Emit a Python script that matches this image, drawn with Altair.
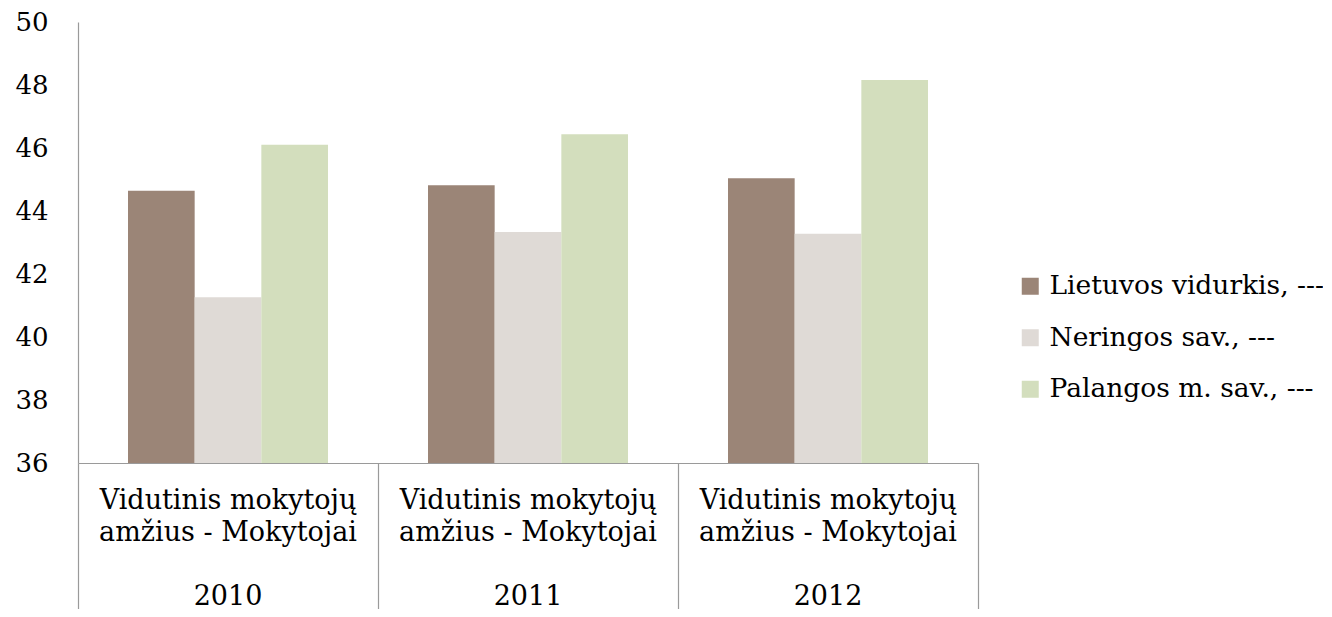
import altair as alt
import pandas as pd

years = ["2010", "2011", "2012"]
series = ["Lietuvos vidurkis, ---", "Neringos sav., ---", "Palangos m. sav., ---"]
lietuvos = [44.64, 44.82, 45.04]
neringos = [41.26, 43.33, 43.28]
palangos = [46.10, 46.44, 48.16]
colors = ["#9B8577", "#DFDAD6", "#D3DEBD"]
y_ticks = [36, 38, 40, 42, 44, 46, 48, 50]

rows = []
for i, yr in enumerate(years):
    for s, vals in zip(series, [lietuvos, neringos, palangos]):
        rows.append({"year": yr, "series": s, "value": vals[i]})
df = pd.DataFrame(rows)

FONT = "DejaVu Serif"
GRAY = "#9A9A9A"

x_scale = alt.Scale(paddingInner=0, paddingOuter=0)
y_scale = alt.Scale(domain=[36, 50], nice=False, zero=False, clamp=True)
off_scale = alt.Scale(paddingInner=0, paddingOuter=0.75)

y_axis = alt.Axis(values=y_ticks, ticks=False, grid=False,
                  labelFont=FONT, labelFontSize=26, labelColor="#000000",
                  labelPadding=30, domainColor=GRAY, domainWidth=1.2,
                  minExtent=70, maxExtent=70)

bars = alt.Chart(df).mark_bar().encode(
    x=alt.X("year:N", sort=years, title=None, scale=x_scale,
            axis=alt.Axis(orient="bottom", labels=False, tickBand="extent",
                          tickSize=146, tickColor=GRAY, tickWidth=1.2,
                          domainColor=GRAY, domainWidth=1.2)),
    xOffset=alt.XOffset("series:N", sort=series, scale=off_scale),
    y=alt.Y("value:Q", title=None, scale=y_scale, axis=y_axis),
    color=alt.Color("series:N", sort=series, title=None,
                    scale=alt.Scale(domain=series, range=colors),
                    legend=alt.Legend(orient="none", legendX=939, legendY=251,
                                      symbolType="square", symbolSize=289,
                                      symbolStrokeWidth=0, labelFont=FONT,
                                      labelFontSize=26.5, labelColor="#000000",
                                      labelOffset=6, rowPadding=24.5,
                                      labelLimit=400)),
)

labels = alt.Chart(df).mark_bar(opacity=0).encode(
    x=alt.X("year:N", sort=years, title=None, scale=x_scale,
            axis=alt.Axis(orient="bottom", labelAngle=0, ticks=False, domain=False,
                          labelExpr="['Vidutinis mokytojų', 'amžius - Mokytojai', '\u200b', datum.label]",
                          labelFont=FONT, labelFontSize=27, labelColor="#000000",
                          labelLineHeight=32, labelPadding=24, labelBaseline="top",
                          labelLimit=400)),
    y=alt.Y("value:Q", title=None, scale=y_scale, axis=y_axis),
)

chart = alt.layer(bars, labels).resolve_axis(x="independent").properties(
    width=900, height=441,
    autosize=alt.AutoSizeParams(type="none"),
    padding={"left": 70, "top": 14, "right": 345, "bottom": 146},
).configure_view(stroke=None)

chart.save("out.html", embed_options={"renderer": "svg", "actions": False})
